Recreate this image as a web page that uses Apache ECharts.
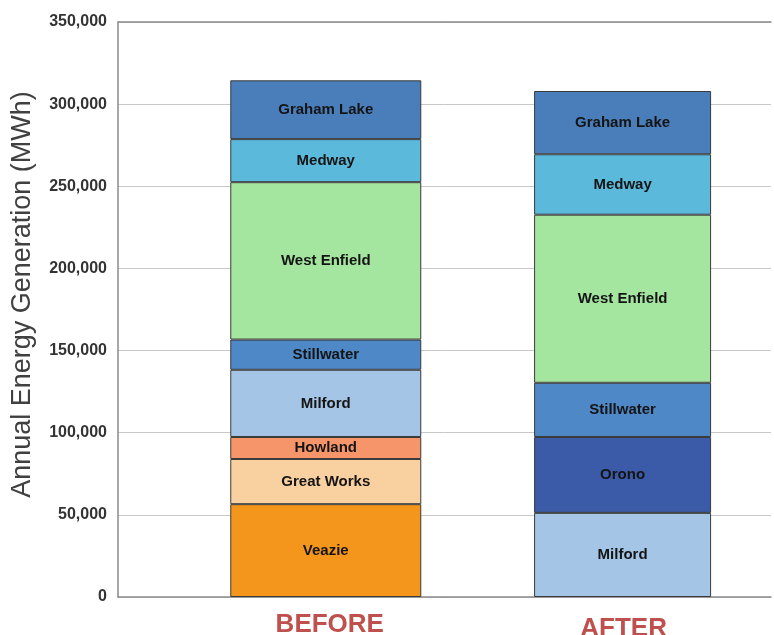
<!DOCTYPE html>
<html>
<head>
<meta charset="utf-8">
<script src="https://cdn.jsdelivr.net/npm/echarts@6/dist/echarts.min.js"></script>
<style>
  html, body { margin: 0; padding: 0; background: #ffffff; }
  #chart { width: 774px; height: 635px; }
</style>
</head>
<body>
<div id="chart"></div>
<script>
// Annual energy generation per dam, before and after the project (MWh)
const periods = ['BEFORE', 'AFTER'];
const stations = ['Veazie', 'Great Works', 'Howland', 'Milford', 'Orono', 'Stillwater', 'West Enfield', 'Medway', 'Graham Lake'];
const beforeMWh = [56500, 27500, 13400, 40900, null, 18400, 95800, 26200, 35800];
const afterMWh  = [null, null, null, 51200, 46200, 33000, 102300, 36800, 38500];
const stationColors = ['#f4961c', '#f9d0a0', '#f7956a', '#a4c5e6', '#3b5aa8', '#4f88c6', '#a4e59f', '#5bbadb', '#4a7ebb'];
const yTicks = [0, 50000, 100000, 150000, 200000, 250000, 300000, 350000];

const periodValues = [beforeMWh, afterMWh];
const columnWidths = [191, 177];
const font = 'Arial, "Liberation Sans", sans-serif';

const chart = echarts.init(document.getElementById('chart'), null, { renderer: 'canvas' });

// One stacked column per period; each period sits on its own x axis so the
// two columns can have their own widths. Data rows are [MWh, period index].
const series = [];
periodValues.forEach((vals, p) => {
  stations.forEach((name, s) => {
    if (vals[s] == null) return;
    series.push({
      type: 'bar',
      name: name,
      xAxisIndex: p,
      stack: periods[p],
      barWidth: columnWidths[p],
      data: [[vals[s], p]],
      encode: { x: 1, y: 0 },
      itemStyle: { color: stationColors[s], borderColor: '#3a3a3a', borderWidth: 1 },
      label: {
        show: true,
        position: 'inside',
        formatter: '{a}',
        color: '#141414',
        fontFamily: font,
        fontWeight: 'bold',
        fontSize: 15
      },
      emphasis: { disabled: true },
      animation: false
    });
  });
});

const axisGrey = '#8a8a8a';

const option = {
  backgroundColor: '#ffffff',
  animation: false,
  grid: { left: 118, right: 3, top: 22, bottom: 38, outerBoundsMode: 'none', containLabel: false },
  xAxis: [
    {
      type: 'value',
      min: -0.7,
      max: 1.5,
      position: 'bottom',
      axisLine: { show: true, onZero: false, lineStyle: { color: axisGrey, width: 1.5 } },
      axisTick: { show: false },
      splitLine: { show: false },
      axisLabel: {
        customValues: [0, 1],
        margin: 15,
        formatter: (v) => (Math.round(v) === 0 ? '{b|' : '{a|') + periods[Math.round(v)] + '}',
        rich: {
          b: { color: '#c0504d', fontFamily: font, fontWeight: 'bold', fontSize: 26, padding: [0, 0, 0, 8] },
          a: { color: '#c0504d', fontFamily: font, fontWeight: 'bold', fontSize: 26, padding: [4, 0, 0, 2] }
        }
      }
    },
    {
      type: 'value',
      min: -0.7,
      max: 1.5,
      position: 'top',
      axisLine: { show: true, onZero: false, lineStyle: { color: axisGrey, width: 1.5 } },
      axisTick: { show: false },
      axisLabel: { show: false },
      splitLine: { show: false }
    }
  ],
  yAxis: {
    type: 'value',
    min: yTicks[0],
    max: yTicks[yTicks.length - 1],
    interval: yTicks[1] - yTicks[0],
    name: 'Annual Energy Generation (MWh)',
    nameLocation: 'middle',
    nameGap: 82,
    nameRotate: 90,
    nameTextStyle: {
      color: '#404040',
      fontFamily: font,
      fontSize: 27,
      padding: [0, 0, 0, 30]
    },
    axisLine: { show: true, onZero: false, lineStyle: { color: axisGrey, width: 1.5 } },
    axisTick: { show: false },
    splitLine: { show: true, lineStyle: { color: '#c8c8c8', width: 1 } },
    axisLabel: {
      margin: 11,
      color: '#333333',
      fontFamily: font,
      fontWeight: 'bold',
      fontSize: 16,
      formatter: (v) => v.toLocaleString('en-US')
    }
  },
  series: series
};

chart.setOption(option);
</script>
</body>
</html>
